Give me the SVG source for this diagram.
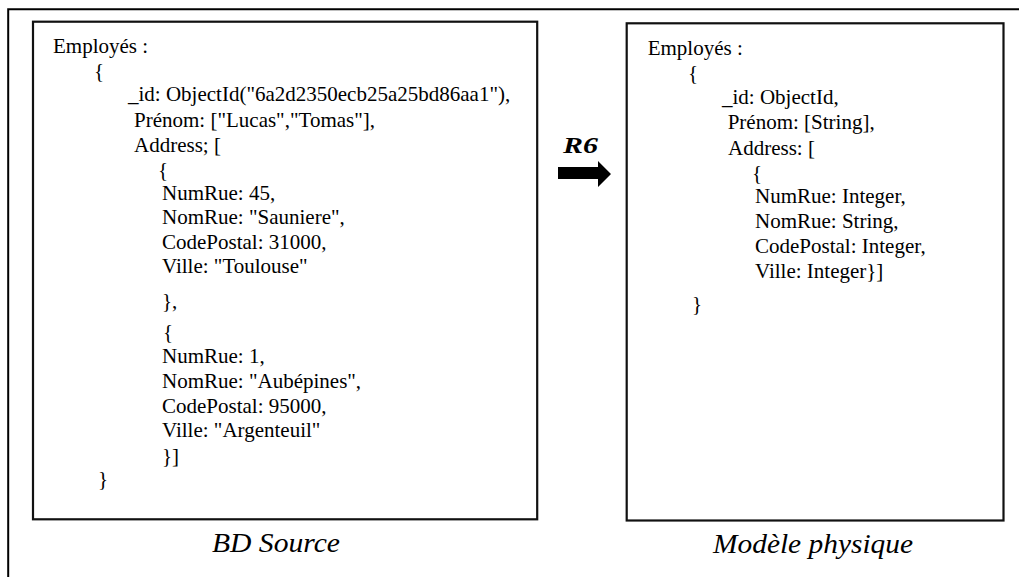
<svg xmlns="http://www.w3.org/2000/svg" width="1019" height="577" viewBox="0 0 1019 577">
  <style>
    .frame { fill: none; stroke: #000; stroke-width: 2; }
    .box { fill: #fff; stroke: #111; stroke-width: 2.2; }
    .code { font-family: "Liberation Serif", "Times New Roman", serif; font-size: 21px; fill: #000; }
    .caption { font-family: "Liberation Serif", "Times New Roman", serif; font-size: 28px; font-style: italic; fill: #000; }
    .rule { font-family: "Liberation Serif", "Times New Roman", serif; font-size: 24px; font-style: italic; font-weight: bold; fill: #000; }
  </style>
  <rect width="1019" height="577" fill="#fff"/>

  <!-- open outer frame: left edge and top edge only -->
  <g id="frame">
    <polyline class="frame" points="8.2,577 8.2,9.3 1019,9.3"/>
  </g>

  <!-- source database document -->
  <g id="source-db">
    <rect class="box" x="33" y="21.7" width="504.2" height="497.6"/>
    <text class="code" x="53" y="52.7">Employés :</text>
    <text class="code" x="94" y="78">{</text>
    <text class="code" x="128" y="101">_id: ObjectId("6a2d2350ecb25a25bd86aa1"),</text>
    <text class="code" x="134" y="126.7">Prénom: ["Lucas","Tomas"],</text>
    <text class="code" x="134" y="151.7">Address; [</text>
    <text class="code" x="158" y="177">{</text>
    <text class="code" x="162" y="200">NumRue: 45,</text>
    <text class="code" x="162" y="224.3">NomRue: "Sauniere",</text>
    <text class="code" x="162" y="249.3">CodePostal: 31000,</text>
    <text class="code" x="162" y="272.7">Ville: "Toulouse"</text>
    <text class="code" x="162" y="308">},</text>
    <text class="code" x="163" y="339">{</text>
    <text class="code" x="162" y="362.7">NumRue: 1,</text>
    <text class="code" x="162" y="387.7">NomRue: "Aubépines",</text>
    <text class="code" x="162" y="412.7">CodePostal: 95000,</text>
    <text class="code" x="162" y="436.7">Ville: "Argenteuil"</text>
    <text class="code" x="162" y="463">}]</text>
    <text class="code" x="98" y="486">}</text>
    <text class="caption" x="212" y="551.7" textLength="128" lengthAdjust="spacingAndGlyphs">BD Source</text>
  </g>

  <!-- physical model document -->
  <g id="physical-model">
    <rect class="box" x="626.7" y="23.3" width="376.8" height="497.2"/>
    <text class="code" x="647.7" y="55">Employés :</text>
    <text class="code" x="688" y="80">{</text>
    <text class="code" x="722" y="104">_id: ObjectId,</text>
    <text class="code" x="727.7" y="129">Prénom: [String],</text>
    <text class="code" x="728" y="155">Address: [</text>
    <text class="code" x="752" y="180">{</text>
    <text class="code" x="755" y="203">NumRue: Integer,</text>
    <text class="code" x="755" y="228">NomRue: String,</text>
    <text class="code" x="755" y="253">CodePostal: Integer,</text>
    <text class="code" x="755" y="278">Ville: Integer}]</text>
    <text class="code" x="692" y="311">}</text>
    <text class="caption" x="713" y="552.7" textLength="200" lengthAdjust="spacingAndGlyphs">Modèle physique</text>
  </g>

  <!-- transformation rule R6 -->
  <g id="connectors">
    <text class="rule" x="563" y="153" textLength="35" lengthAdjust="spacingAndGlyphs">R6</text>
    <path d="M558,167 H598 V161 L611,174 L598,187 V179 H558 Z" fill="#000"/>
  </g>
</svg>
